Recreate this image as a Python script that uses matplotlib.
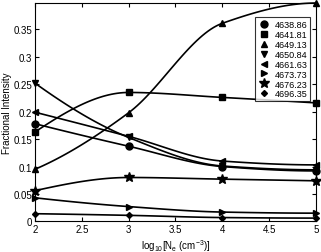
import numpy as np
import matplotlib
matplotlib.use('Agg')
import matplotlib.pyplot as plt

plt.rcParams['font.family'] = ['Liberation Sans', 'DejaVu Sans']
plt.rcParams['mathtext.fontset'] = 'custom'
plt.rcParams['mathtext.rm'] = 'Liberation Sans'
plt.rcParams['mathtext.it'] = 'Liberation Sans'

# log10 of electron density
log_ne = [2, 3, 4, 5]

# fractional intensity of each line
wavelengths = ['4638.86', '4641.81', '4649.13', '4650.84',
               '4661.63', '4673.73', '4676.23', '4696.35']
i_4638 = [0.178, 0.137, 0.100, 0.092]
i_4641 = [0.163, 0.235, 0.226, 0.216]
i_4649 = [0.095, 0.198, 0.361, 0.398]
i_4650 = [0.252, 0.153, 0.101, 0.094]
i_4661 = [0.199, 0.155, 0.110, 0.103]
i_4673 = [0.043, 0.027, 0.017, 0.015]
i_4676 = [0.056, 0.080, 0.077, 0.074]
i_4696 = [0.014, 0.011, 0.007, 0.006]
markers = ['o', 's', '^', 'v', '<', '>', '*', 'D']
msizes = [5, 4.5, 5, 5, 5, 5, 7, 3]


def smooth(x, y, n=100):
    # shape-preserving cubic (pchip), only used to draw the line
    x = np.asarray(x, float)
    y = np.asarray(y, float)
    h = np.diff(x)
    d = np.diff(y) / h
    k = len(x)
    m = np.zeros(k)
    for i in range(1, k - 1):
        if d[i - 1] * d[i] > 0:
            w1 = 2 * h[i] + h[i - 1]
            w2 = h[i] + 2 * h[i - 1]
            m[i] = (w1 + w2) / (w1 / d[i - 1] + w2 / d[i])
    for i, (a, b, hh0, hh1) in ((0, (d[0], d[1], h[0], h[1])),
                                (k - 1, (d[-1], d[-2], h[-1], h[-2]))):
        s = ((2 * hh0 + hh1) * a - hh0 * b) / (hh0 + hh1)
        if np.sign(s) != np.sign(a):
            s = 0
        elif np.sign(a) != np.sign(b) and abs(s) > abs(3 * a):
            s = 3 * a
        m[i] = s
    xs = np.linspace(x[0], x[-1], n)
    j = np.clip(np.searchsorted(x, xs) - 1, 0, k - 2)
    t = (xs - x[j]) / h[j]
    h00 = 2 * t**3 - 3 * t**2 + 1
    h10 = t**3 - 2 * t**2 + t
    h01 = -2 * t**3 + 3 * t**2
    h11 = t**3 - t**2
    ys = h00 * y[j] + h10 * h[j] * m[j] + h01 * y[j + 1] + h11 * h[j] * m[j + 1]
    return xs, ys


fig = plt.figure(figsize=(3.21, 2.53), dpi=100)
ax = fig.add_axes([0.109, 0.121, 0.875, 0.863])

series = [i_4638, i_4641, i_4649, i_4650, i_4661, i_4673, i_4676, i_4696]
for vals, lab, m, ms in zip(series, wavelengths, markers, msizes):
    xs, ys = smooth(log_ne, vals)
    ax.plot(xs, ys, color='black', lw=1.2, clip_on=False)
    ax.plot(log_ne, vals, ls='none', marker=m, ms=ms, color='black', clip_on=False)
    ax.plot([], [], ls='none', marker=m, ms=ms, color='black', label=lab)

ax.set_xlim(2, 5)
ax.set_ylim(0, 0.398)
ax.set_xticks([2, 2.5, 3, 3.5, 4, 4.5, 5])
ax.set_xticklabels(['2', '2.5', '3', '3.5', '4', '4.5', '5'])
ax.set_yticks([0, 0.05, 0.1, 0.15, 0.2, 0.25, 0.3, 0.35])
ax.set_yticklabels(['0', '0.05', '0.1', '0.15', '0.2', '0.25', '0.3', '0.35'])
ax.tick_params(direction='in', top=True, right=True, labelsize=7, length=3, pad=2)
ax.set_xlabel(r'log$_{10}$[N$_e$ (cm$^{-3}$)]', fontsize=7, labelpad=2)
ax.set_ylabel('Fractional Intensity', fontsize=7, labelpad=1)

leg = ax.legend(loc='upper right', fontsize=6.5, frameon=True, fancybox=False,
                edgecolor='black', handlelength=1.2, handletextpad=0.6,
                labelspacing=0.1, borderpad=0.3, bbox_to_anchor=(0.995, 0.955))
leg.get_frame().set_linewidth(0.8)

plt.savefig('out.png', dpi=100)
